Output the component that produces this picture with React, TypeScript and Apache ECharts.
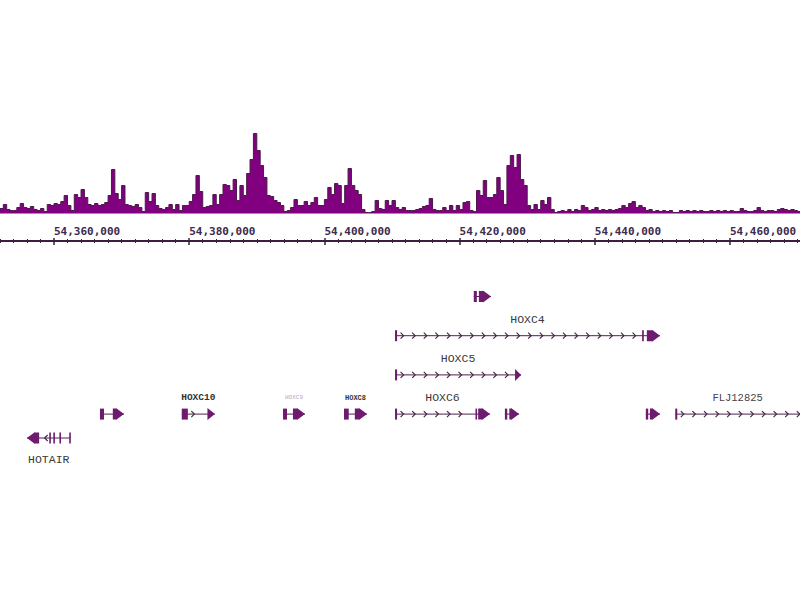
import React, { useEffect, useRef } from "react";
import * as echarts from "echarts";

// ---- coverage track (500 bp bins starting at BIN_START) ----
const BIN_START = 54352000;
const BIN_SIZE = 500;
const coverage: number[] = [
  5, 9, 4, 3, 3, 6, 10, 6, 5, 7,
  4, 3, 5, 2, 9, 8, 10, 9, 12, 18,
  8, 3, 19, 16, 24, 16, 9, 8, 10, 8,
  9, 11, 18, 44, 20, 14, 28, 9, 8, 7,
  9, 6, 2, 21, 12, 20, 8, 5, 4, 6,
  9, 4, 9, 3, 8, 8, 12, 19, 38, 22,
  6, 7, 8, 19, 9, 19, 29, 28, 23, 34,
  13, 28, 18, 40, 54, 80, 63, 48, 36, 18,
  17, 13, 11, 8, 2, 3, 6, 14, 8, 8,
  12, 8, 11, 16, 8, 8, 14, 26, 19, 30,
  28, 10, 28, 45, 28, 23, 19, 4, 1, 1,
  2, 13, 5, 4, 13, 8, 13, 6, 4, 6,
  3, 3, 3, 4, 5, 7, 8, 15, 4, 3,
  3, 6, 3, 8, 3, 8, 4, 11, 12, 3,
  2, 23, 18, 33, 16, 16, 19, 36, 23, 9,
  48, 58, 46, 59, 34, 28, 8, 4, 9, 4,
  13, 9, 16, 4, 1, 2, 3, 2, 4, 2,
  4, 3, 8, 6, 3, 4, 6, 3, 4, 3,
  4, 3, 4, 5, 8, 6, 10, 12, 6, 8,
  6, 3, 4, 2, 3, 2, 3, 2, 3, 1,
  1, 3, 2, 3, 2, 3, 2, 3, 2, 2,
  3, 2, 3, 2, 3, 2, 3, 2, 2, 5,
  3, 2, 2, 3, 6, 3, 2, 3, 3, 2,
  4, 5, 4, 3, 4, 3, 2,
];

// ---- coordinate axis ----
const AXIS_MIN = 54340000;
const AXIS_MAX = 54480000;
const AXIS_STEP = 20000;

// ---- gene annotations ----
type Gene = {
  name: string;
  row: number;
  strand: "+" | "-";
  txStart: number;
  txEnd: number;
  exons: [number, number][];
  labelBelow?: boolean;
};

const genes: Gene[] = [
  { name: "", row: 0, strand: "+", txStart: 54422100, txEnd: 54424650, exons: [[54422100, 54422550], [54422850, 54424650]] },
  { name: "HOXC4", row: 2, strand: "+", txStart: 54410450, txEnd: 54449650, exons: [[54410450, 54410750], [54447000, 54447250], [54447700, 54449650]] },
  { name: "HOXC5", row: 4, strand: "+", txStart: 54410450, txEnd: 54429100, exons: [[54410450, 54410750], [54428200, 54429100]] },
  { name: "HOXC6", row: 6, strand: "+", txStart: 54410450, txEnd: 54424500, exons: [[54410450, 54410750], [54422350, 54422550], [54422750, 54424500]] },
  { name: "", row: 6, strand: "+", txStart: 54426700, txEnd: 54428800, exons: [[54426700, 54427050], [54427350, 54428800]] },
  { name: "", row: 6, strand: "+", txStart: 54447550, txEnd: 54449650, exons: [[54447550, 54447900], [54448150, 54449650]] },
  { name: "FLJ12825", row: 6, strand: "+", txStart: 54451900, txEnd: 54475000, exons: [[54451900, 54452200], [54474000, 54475000]] },
  { name: "", row: 6, strand: "+", txStart: 54366800, txEnd: 54370350, exons: [[54366800, 54367400], [54368700, 54370350]] },
  { name: "HOXC10", row: 6, strand: "+", txStart: 54378900, txEnd: 54383800, exons: [[54378900, 54379800], [54382700, 54383800]] },
  { name: "HOXC9", row: 6, strand: "+", txStart: 54393880, txEnd: 54397130, exons: [[54393880, 54394470], [54395350, 54397130]] },
  { name: "HOXC8", row: 6, strand: "+", txStart: 54402900, txEnd: 54406300, exons: [[54402900, 54403600], [54404500, 54406300]] },
  { name: "HOTAIR", row: 7.22, strand: "-", txStart: 54356000, txEnd: 54362450, exons: [[54356000, 54357800], [54359300, 54359500], [54359900, 54360100], [54360800, 54361000], [54362250, 54362450]], labelBelow: true },
];

// label style overrides (presentation only)
const labelStyle: Record<string, { fontSize: number; color: string; fontWeight?: string }> = {
  HOXC10: { fontSize: 9.5, color: "#333333", fontWeight: "bold" },
  HOXC9: { fontSize: 6, color: "#b8a8b8" },
  HOXC8: { fontSize: 7, color: "#333333", fontWeight: "bold" },
  FLJ12825: { fontSize: 10.5, color: "#444444" },
};

const GRID_LEFT = -81.2;
const GRID_RIGHT = -65.2;
const AXIS_COLOR = "#3c1f3f";
const INTRON_COLOR = "#4a2548";
const EXON_COLOR = "#6e1a6e";

export default function App() {
  const ref = useRef<HTMLDivElement>(null);

  useEffect(() => {
    if (!ref.current) return;
    const chart = echarts.init(ref.current, undefined, { renderer: "svg" });

    const covData: [number, number][] = coverage.map((v, i) => [BIN_START + i * BIN_SIZE, v]);
    covData.push([BIN_START + coverage.length * BIN_SIZE, coverage[coverage.length - 1]]);

    const renderGene = (params: any, api: any) => {
      const g = genes[api.value(3)];
      const y = api.coord([g.txStart, g.row])[1];
      const xs = api.coord([g.txStart, g.row])[0];
      const xe = api.coord([g.txEnd, g.row])[0];
      const children: any[] = [];
      children.push({
        type: "line",
        shape: { x1: xs, y1: y, x2: xe, y2: y },
        style: { stroke: INTRON_COLOR, lineWidth: 1 },
      });
      const px = g.exons.map(([s, e]) => [api.coord([s, g.row])[0], api.coord([e, g.row])[0]]);
      for (let k = 0; k < px.length - 1; k++) {
        const gs = px[k][1];
        const ge = px[k + 1][0];
        for (let cx = gs + 6; cx < ge - 3; cx += 11.6) {
          const pts =
            g.strand === "+"
              ? [[cx - 2.5, y - 3], [cx + 0.5, y], [cx - 2.5, y + 3]]
              : [[cx + 2.5, y - 3], [cx - 0.5, y], [cx + 2.5, y + 3]];
          children.push({
            type: "polyline",
            shape: { points: pts },
            style: { stroke: INTRON_COLOR, lineWidth: 1.2, fill: null },
          });
        }
      }
      const arrowIdx = g.strand === "+" ? px.length - 1 : 0;
      const h = 5.5;
      const H = 6;
      const A = 8;
      px.forEach(([s, e], idx) => {
        if (idx === arrowIdx) {
          let pts: number[][];
          if (g.strand === "+") {
            if (e - s > A) {
              pts = [[s, y - h], [e - A, y - h], [e - A, y - H], [e, y], [e - A, y + H], [e - A, y + h], [s, y + h]];
            } else {
              pts = [[s, y - H], [e, y], [s, y + H]];
            }
          } else {
            if (e - s > A) {
              pts = [[e, y - h], [s + A, y - h], [s + A, y - H], [s, y], [s + A, y + H], [s + A, y + h], [e, y + h]];
            } else {
              pts = [[e, y - H], [s, y], [e, y + H]];
            }
          }
          children.push({ type: "polygon", shape: { points: pts }, style: { fill: EXON_COLOR } });
        } else {
          const w = Math.max(e - s, 1.6);
          children.push({
            type: "rect",
            shape: { x: s, y: y - h, width: w, height: 2 * h },
            style: { fill: EXON_COLOR },
          });
        }
      });
      if (g.name) {
        const vis0 = Math.max(xs, 0);
        const vis1 = Math.min(xe, api.getWidth());
        const st = labelStyle[g.name] || { fontSize: 11.5, color: "#3a3a3a" };
        children.push({
          type: "text",
          style: {
            text: g.name,
            x: (vis0 + vis1) / 2,
            y: g.labelBelow ? y + 21 : y - 16.5,
            align: "center",
            verticalAlign: "middle",
            fontFamily: "Liberation Mono",
            fontSize: st.fontSize,
            fontWeight: st.fontWeight || "normal",
            fill: st.color,
          },
        });
      }
      return { type: "group", children };
    };

    const tickAxisBase = {
      type: "value",
      min: AXIS_MIN,
      max: AXIS_MAX,
      interval: AXIS_STEP,
      splitLine: { show: false },
      minorSplitLine: { show: false },
    };

    const gridBase = { left: GRID_LEFT, right: GRID_RIGHT, containLabel: false, outerBoundsMode: "none" };

    chart.setOption({
      animation: false,
      backgroundColor: "#ffffff",
      grid: [
        { ...gridBase, top: 128.5, height: 85 },
        { ...gridBase, top: 276.9, height: 215.6 },
        { ...gridBase, top: 241, height: 20 },
      ],
      xAxis: [
        {
          ...tickAxisBase,
          gridIndex: 0,
          position: "bottom",
          offset: 27.5,
          axisLine: { show: true, onZero: false, lineStyle: { color: AXIS_COLOR, width: 2 } },
          axisTick: { show: true, length: 4, lineStyle: { color: AXIS_COLOR, width: 1.5 } },
          minorTick: { show: true, splitNumber: 10, length: 2, lineStyle: { color: AXIS_COLOR, width: 1 } },
          axisLabel: {
            show: true,
            inside: true,
            align: "left",
            margin: 4,
            fontFamily: "DejaVu Sans Mono",
            fontWeight: "bold",
            fontSize: 11,
            color: "#3d2b4d",
            showMinLabel: false,
            showMaxLabel: false,
            formatter: (v: number) => v.toLocaleString("en-US"),
          },
        },
        { type: "value", gridIndex: 1, min: AXIS_MIN, max: AXIS_MAX, show: false },
        {
          ...tickAxisBase,
          gridIndex: 2,
          position: "top",
          axisLine: { show: false, onZero: false },
          axisTick: { show: true, length: 3, lineStyle: { color: AXIS_COLOR, width: 1.5 } },
          minorTick: { show: true, splitNumber: 10, length: 2, lineStyle: { color: AXIS_COLOR, width: 1 } },
          axisLabel: { show: false },
        },
      ],
      yAxis: [
        { type: "value", gridIndex: 0, min: 0, max: 85, show: false },
        { type: "value", gridIndex: 1, min: -1, max: 10, inverse: true, show: false },
        { type: "value", gridIndex: 2, min: 0, max: 1, show: false },
      ],
      series: [
        {
          type: "line",
          xAxisIndex: 0,
          yAxisIndex: 0,
          step: "end",
          symbol: "none",
          data: covData,
          lineStyle: { color: "#4a1a48", width: 1 },
          areaStyle: { color: "#800080", opacity: 1 },
        },
        {
          type: "custom",
          xAxisIndex: 1,
          yAxisIndex: 1,
          renderItem: renderGene,
          encode: { x: [0, 1], y: 2 },
          data: genes.map((g, i) => [g.txStart, g.txEnd, g.row, i]),
          clip: false,
        },
      ],
    });

    return () => chart.dispose();
  }, []);

  return (
    <div
      ref={ref}
      style={{ position: "absolute", left: 0, top: 0, width: 800, height: 600, background: "#fff" }}
    />
  );
}
